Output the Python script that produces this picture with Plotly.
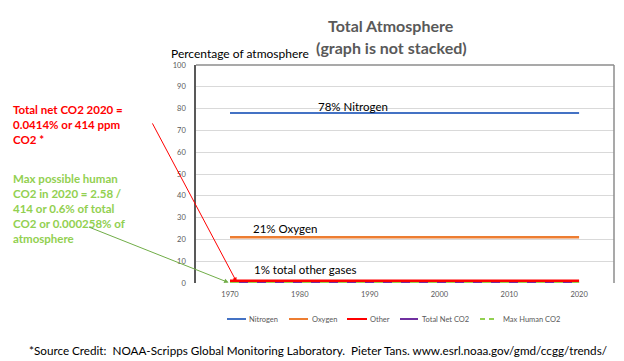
import plotly.graph_objects as go

years = [1970, 1980, 1990, 2000, 2010, 2020]
nitrogen = [78, 78, 78, 78, 78, 78]
oxygen = [21, 21, 21, 21, 21, 21]
other = [1, 1, 1, 1, 1, 1]
total_net_co2 = [0.0414, 0.0414, 0.0414, 0.0414, 0.0414, 0.0414]
max_human_co2 = [0.000258, 0.000258, 0.000258, 0.000258, 0.000258, 0.000258]
series_names = ["Nitrogen", "Oxygen", "Other", "Total Net CO2", "Max Human CO2"]
x_ticks = [1970, 1980, 1990, 2000, 2010, 2020]
y_ticks = [0, 10, 20, 30, 40, 50, 60, 70, 80, 90, 100]

FONT = "Lato"
OFF = 8  # page body margin
L, R, T, B = 196, 614, 65, 283  # plot area in screen pixels
W, H = 624 - OFF, 361 - OFF

def px(X):
    return (X - L) / (R - L)

def py(Y):
    return (B - Y) / (B - T)

colors = ["#4472C4", "#ED7D31", "#FF0000", "#7030A0", "#92D050"]
widths = [2, 2.5, 2.5, 2, 2]
dashes = ["solid", "solid", "solid", "solid", "dash"]
values = [nitrogen, oxygen, other, total_net_co2, max_human_co2]

fig = go.Figure()
for name, vals, c, w, d in zip(series_names, values, colors, widths, dashes):
    fig.add_trace(go.Scatter(x=years, y=vals, mode="lines", name=name, showlegend=False,
                             line=dict(color=c, width=w, dash=d)))

ann = []
shapes = []

def text(X, Y, s, size, color, bold=False, xanchor="left"):
    ann.append(dict(x=px(X), y=py(Y), xref="paper", yref="paper",
                    text=("<b>%s</b>" % s) if bold else s,
                    showarrow=False, font=dict(family=FONT, size=size, color=color),
                    xanchor=xanchor, yanchor="middle", align="left"))

text(391, 25, "Total Atmosphere", 16, "#595959", bold=True, xanchor="center")
text(391, 48, "(graph is not stacked)", 16, "#595959", bold=True, xanchor="center")
text(169, 53, "Percentage of atmosphere", 12, "#000000")

red_lines = ["Total net CO2 2020 =", "0.0414% or 414 ppm", "CO2 *"]
text(11, 124.5, "<br>".join(red_lines), 11.5, "#FF0000", bold=True)
green_lines = ["Max possible human", "CO2 in 2020 = 2.58 /", "414 or 0.6% of total",
               "CO2 or 0.000258% of", "atmosphere"]
text(11, 208.5, "<br>".join(green_lines), 11.5, "#92D050", bold=True)

text(316, 106, "78% Nitrogen", 11.5, "#000000")
text(251, 228, "21% Oxygen", 11.5, "#000000")
text(252, 269, "1% total other gases", 11.5, "#000000")
text(27, 350, "*Source Credit:  NOAA-Scripps Global Monitoring Laboratory.  Pieter Tans. www.esrl.noaa.gov/gmd/ccgg/trends/", 11.7, "#000000")

# arrows
ann.append(dict(x=1970.95, y=0.5, xref="x", yref="y", ax=152 - 237, ay=122 - 282,
                axref="pixel", ayref="pixel", text="", showarrow=True, arrowhead=2,
                arrowsize=0.9, arrowwidth=1, arrowcolor="#FF0000"))
ann.append(dict(x=1969.8, y=0.2, xref="x", yref="y", ax=88 - 229, ay=226 - 282,
                axref="pixel", ayref="pixel", text="", showarrow=True, arrowhead=2,
                arrowsize=0.9, arrowwidth=1, arrowcolor="#70AD47"))

# manual legend
leg_y = 319
leg_items = [(227, 246, 247), (289, 308, 310), (347, 367, 368), (400, 418, 420), (480, 497, 501)]
for (x0, x1, tx), name, c, d in zip(leg_items, series_names, colors, dashes):
    shapes.append(dict(type="line", xref="paper", yref="paper", x0=px(x0), x1=px(x1),
                       y0=py(leg_y), y1=py(leg_y),
                       line=dict(color=c, width=2, dash="5px,4px" if d == "dash" else "solid")))
    text(tx, leg_y, name, 7.5, "#595959")

# plot border (top and right)
shapes.append(dict(type="line", xref="paper", yref="paper", x0=0, x1=1, y0=1, y1=1,
                   line=dict(color="#8C8C8C", width=1.5)))
shapes.append(dict(type="line", xref="paper", yref="paper", x0=1, x1=1, y0=0, y1=1,
                   line=dict(color="#8C8C8C", width=1.5)))

fig.update_layout(
    width=W, height=H,
    margin=dict(l=L - OFF, r=624 - R, t=T - OFF, b=361 - B, pad=0),
    paper_bgcolor="white", plot_bgcolor="white",
    font=dict(family=FONT, size=8, color="#595959"),
    annotations=ann, shapes=shapes,
    showlegend=False,
)
fig.update_xaxes(range=[1965.13, 2025.0], tickvals=x_ticks, ticktext=[str(v) for v in x_ticks],
                 showgrid=False, zeroline=False, showline=False, ticks="",
                 ticklabelstandoff=5,
                 tickfont=dict(family=FONT, size=7.5, color="#595959"))
fig.update_yaxes(range=[0, 100], tickvals=y_ticks, showgrid=True, gridcolor="#D9D9D9", gridwidth=1,
                 zeroline=False, showline=True, linecolor="#595959", linewidth=1.5, ticks="",
                 ticklabelstandoff=7,
                 tickfont=dict(family=FONT, size=7.5, color="#595959"))

fig.write_html("out.html")
